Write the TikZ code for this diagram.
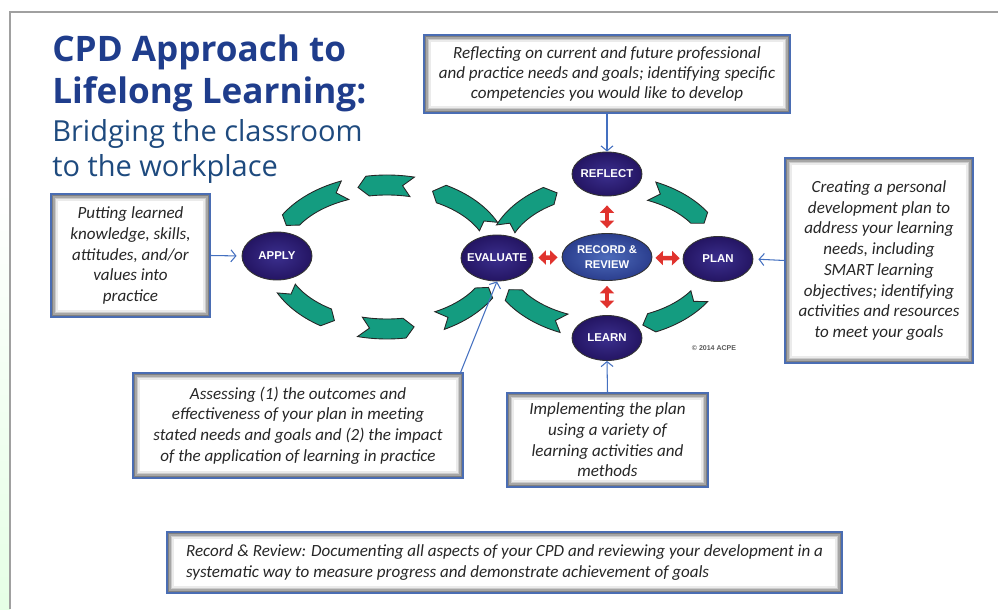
\documentclass[tikz,border=0pt]{standalone}
\usepackage{fontspec}
\setmainfont{Carlito}
\newfontfamily\titlefont{Open Sans}
\newfontfamily\labelfont{Liberation Sans}
\usetikzlibrary{shapes.geometric,arrows.meta}

\definecolor{titleblue}{HTML}{1F3D8C}
\definecolor{subblue}{HTML}{1E4A7E}
\definecolor{navy}{HTML}{241563}
\definecolor{navyin}{HTML}{3B2F8E}
\definecolor{rrblue}{HTML}{2B3E8E}
\definecolor{rrin}{HTML}{4D6BBB}
\definecolor{boxblue}{HTML}{4A6DB3}
\definecolor{arrblue}{HTML}{4470C0}
\definecolor{ribgreen}{HTML}{149C80}
\definecolor{arrred}{HTML}{E0332E}
\definecolor{framegray}{HTML}{A0A0A0}

\newcommand{\ribbon}[4]{%
  \pgfmathsetmacro\ribtip{#4>#3 ? 5 : -5}
  \filldraw[rib] plot[domain=#3:#4,samples=15] ({#1+(\ribrx+10)*cos(\x)},{#2+(\ribry+10)*sin(\x)})
    -- ({#1+\ribrx*cos(#4+\ribtip)},{#2+\ribry*sin(#4+\ribtip)})
    -- plot[domain=#4:#3,samples=15] ({#1+(\ribrx-10)*cos(\x)},{#2+(\ribry-10)*sin(\x)})
    -- ({#1+\ribrx*cos(#3+\ribtip)},{#2+\ribry*sin(#3+\ribtip)}) -- cycle;}

\begin{document}
\begin{tikzpicture}[x=0.02cm,y=0.02cm,
    stage/.style={ellipse,draw=black!80,line width=0.5pt,inner color=navyin,outer color=navy,
      text=white,font=\labelfont\bfseries\fontsize{6.5}{8}\selectfont,inner xsep=-3pt,inner ysep=0pt,
      minimum width=1.4cm,minimum height=0.88cm},
    descbox/.style={draw=boxblue,line width=0.7pt,align=center,inner sep=2pt,text=black!85,
      font=\itshape\fontsize{9.7}{11.8}\selectfont,
      path picture={\foreach \shd/\ins in {50/0,35/1,20/2,8/3,0/4}{
        \fill[black!\shd!white] ([shift={(\ins pt,\ins pt)}]path picture bounding box.south west)
          rectangle ([shift={(-\ins pt,-\ins pt)}]path picture bounding box.north east);}}},
    rib/.style={fill=ribgreen,draw=black!85,line width=0.5pt},
    blarr/.style={draw=arrblue,line width=0.6pt,-{Straight Barb[length=0.1cm,width=0.24cm]}},
    redarr/.style={draw=arrred,line width=0.09cm,
      {Triangle[width=0.28cm,length=0.15cm]}-{Triangle[width=0.28cm,length=0.15cm]}}]

  \useasboundingbox (0,0) rectangle (998,609);
  \fill[top color=white,bottom color=green!10!white] (0,0) rectangle (10,420);
  \draw[framegray,line width=0.8pt] (10,0) -- (10,597) -- (998,597);

  \node[anchor=base west,inner sep=0,text=titleblue,font=\titlefont\bfseries\fontsize{20}{24}\selectfont] (t1) at (52,547) {CPD Approach to};
  \node[anchor=base west,inner sep=0,text=titleblue,font=\titlefont\bfseries\fontsize{20}{24}\selectfont] (t2) at (52,505) {Lifelong Learning:};
  \node[anchor=base west,inner sep=0,text=subblue,font=\titlefont\fontsize{16.5}{20}\selectfont] (t3) at (52,467) {Bridging the classroom};
  \node[anchor=base west,inner sep=0,text=subblue,font=\titlefont\fontsize{16.5}{20}\selectfont] (t4) at (52,432) {to the workplace};

  \def\ribrx{112}\def\ribry{72}
  \ribbon{387}{352}{25}{61}
  \ribbon{387}{352}{77}{100}
  \ribbon{387}{352}{112}{149}
  \ribbon{387}{352}{206}{237}
  \ribbon{387}{352}{256}{279}
  \ribbon{387}{352}{298}{330}
  \def\ribrx{110}\def\ribry{72}
  \ribbon{607}{352}{157}{122}
  \ribbon{607}{352}{66}{33}
  \ribbon{607}{352}{-33}{-66}
  \ribbon{607}{352}{247}{212}

  \node[stage] (reflect) at (607,435) {REFLECT};
  \node[stage,minimum width=1.8cm,minimum height=0.94cm,inner color=rrin,outer color=rrblue,
    font=\labelfont\bfseries\fontsize{6.4}{8.3}\selectfont,align=center] (rr) at (607,352) {RECORD \&\\REVIEW};
  \node[stage,minimum height=0.9cm] (plan) at (718,350) {PLAN};
  \node[stage,minimum height=0.9cm] (learn) at (607,271) {LEARN};
  \node[stage,minimum width=1.44cm,minimum height=0.92cm] (eval) at (497,351) {EVALUATE};
  \node[stage,minimum height=0.96cm] (apply) at (277,353) {APPLY};
  \node[text=black!65,font=\labelfont\bfseries\fontsize{4}{5}\selectfont] (copy) at (714,261) {© 2014 ACPE};

  \node[descbox,minimum width=7.32cm,minimum height=1.56cm,font=\itshape\fontsize{9.7}{11.3}\selectfont] (reflbox) at (607,535)
    {Reflecting on current and future professional\\and practice needs and goals; identifying specific\\competencies you would like to develop};
  \node[descbox,minimum width=3.18cm,minimum height=2.46cm] (applybox) at (130.5,353.5)
    {Putting learned\\knowledge, skills,\\attitudes, and/or\\values into\\practice};
  \node[descbox,minimum width=3.76cm,minimum height=4.1cm] (planbox) at (879,348.5)
    {Creating a personal\\development plan to\\address your learning\\needs, including\\SMART learning\\objectives; identifying\\activities and resources\\to meet your goals};
  \node[descbox,minimum width=6.6cm,minimum height=2.1cm] (evalbox) at (298,183.5)
    {Assessing (1) the outcomes and\\effectiveness of your plan in meeting\\stated needs and goals and (2) the impact\\of the application of learning in practice};
  \node[descbox,minimum width=4.02cm,minimum height=1.88cm] (learnbox) at (607.5,169)
    {Implementing the plan\\using a variety of\\learning activities and\\methods};
  \node[descbox,minimum width=13.5cm,minimum height=1.22cm,align=left,
    font=\itshape\fontsize{9.7}{12}\selectfont] (rrbox) at (504.5,46.5)
    {Record \& Review: Documenting all aspects of your CPD and reviewing your development in a\\systematic way to measure progress and demonstrate achievement of goals};

  \draw[blarr] (reflbox.south) -- (reflect.north);
  \draw[blarr,shorten >=0.1cm] (applybox.east) -- (apply.west);
  \draw[blarr,shorten >=0.1cm] (planbox.west) -- (plan.east);
  \draw[blarr] (learnbox.north) -- (learn.south);
  \draw[blarr] ([xshift=-0.06cm]evalbox.north east) -- (eval.south);

  \draw[redarr,shorten <=0.18cm,shorten >=0.1cm] (reflect) -- (rr);
  \draw[redarr,shorten <=0.1cm,shorten >=0.14cm] (rr) -- (learn);
  \draw[redarr,shorten <=0.1cm,shorten >=0.08cm] (eval) -- (rr);
  \draw[redarr,shorten <=0.06cm,shorten >=0.06cm] (rr) -- (plan);

\end{tikzpicture}
\end{document}
